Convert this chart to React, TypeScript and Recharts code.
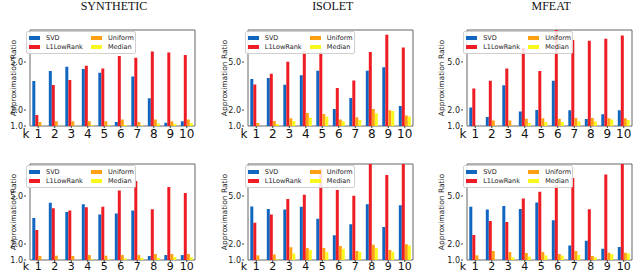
import React from 'react';
import { BarChart, Bar, XAxis, YAxis, ReferenceArea } from 'recharts';

// k = number of components
const K = ['1', '2', '3', '4', '5', '6', '7', '8', '9', '10'];
const Y_TICKS = [1, 1.5, 2, 5];
const TITLES = ['SYNTHETIC', 'ISOLET', 'MFEAT'];

// top row
const SYN_TOP_SVD = [3.81, 4.44, 4.71, 4.56, 4.33, 1.25, 4.1, 2.73, 1.21, 1.29];
const SYN_TOP_L1 = [1.69, 3.56, 3.88, 4.77, 4.6, 5.38, 5.27, 5.65, 5.6, 5.44];
const SYN_TOP_UNI = [1.25, 1.29, 1.29, 1.29, 1.29, 1.4, 1.25, 1.4, 1.29, 1.4];
const SYN_TOP_MED = [1.02, 1.01, 1.02, 1.04, 1.04, 1.06, 1.04, 1.15, 1.12, 1.19];

const ISO_TOP_SVD = [3.94, 4.0, 3.58, 4.17, 4.46, 2.06, 2.75, 4.46, 4.67, 2.25];
const ISO_TOP_L1 = [3.6, 4.27, 5.02, 5.65, 5.63, 3.38, 3.85, 5.63, 6.71, 5.9];
const ISO_TOP_UNI = [1.19, 1.31, 1.48, 1.81, 1.75, 1.4, 1.54, 2.06, 1.98, 1.65];
const ISO_TOP_MED = [1.0, 1.12, 1.31, 1.52, 1.58, 1.29, 1.38, 1.79, 1.94, 1.6];

const MF_TOP_SVD = [2.15, 1.56, 3.54, 1.9, 2.0, 3.83, 1.98, 1.44, 1.73, 1.98];
const MF_TOP_L1 = [3.35, 3.83, 4.6, 5.88, 4.44, 7.2, 6.38, 6.33, 6.46, 6.65];
const MF_TOP_UNI = [1.02, 1.35, 1.35, 1.46, 1.48, 1.46, 1.5, 1.5, 1.48, 1.48];
const MF_TOP_MED = [1.0, 1.01, 1.02, 1.19, 1.25, 1.25, 1.29, 1.29, 1.4, 1.38];

// bottom row
const SYN_BOT_SVD = [3.63, 4.58, 4.0, 4.48, 3.85, 3.9, 4.1, 1.25, 1.31, 1.31];
const SYN_BOT_L1 = [2.88, 4.23, 4.1, 4.29, 4.33, 5.35, 5.94, 4.17, 5.56, 5.19];
const SYN_BOT_UNI = [1.25, 1.27, 1.25, 1.31, 1.27, 1.31, 1.31, 1.38, 1.38, 1.38];
const SYN_BOT_MED = [1.0, 1.0, 1.0, 1.04, 1.04, 1.1, 1.13, 1.13, 1.19, 1.17];

const ISO_BOT_SVD = [4.35, 4.19, 4.15, 4.33, 3.58, 2.54, 3.23, 4.48, 3.06, 4.42];
const ISO_BOT_L1 = [3.33, 3.85, 4.81, 5.08, 6.67, 5.38, 5.02, 7.5, 6.31, 7.5];
const ISO_BOT_UNI = [1.29, 1.35, 1.79, 1.75, 1.75, 1.88, 1.56, 1.96, 1.63, 1.98];
const ISO_BOT_MED = [1.0, 1.04, 1.4, 1.63, 1.5, 1.71, 1.52, 1.75, 1.52, 1.9];

const MF_BOT_SVD = [4.33, 4.15, 4.38, 4.19, 4.6, 3.48, 1.9, 2.21, 1.71, 1.81];
const MF_BOT_L1 = [2.56, 3.44, 3.38, 4.85, 5.27, 5.69, 6.13, 4.17, 6.35, 7.5];
const MF_BOT_UNI = [1.29, 1.56, 1.5, 1.44, 1.5, 1.38, 1.56, 1.25, 1.46, 1.46];
const MF_BOT_MED = [1.0, 1.0, 1.17, 1.21, 1.29, 1.27, 1.31, 1.17, 1.38, 1.4];

const COLORS = {
    svd: '#1167c0',
    l1: '#ee1d25',
    uni: '#ffa012',
    med: '#f8f81c',
};

const SERIES = [
    { key: 'svd', name: 'SVD' },
    { key: 'l1', name: 'L1LowRank' },
    { key: 'uni', name: 'Uniform' },
    { key: 'med', name: 'Median' },
];

const FONT = '"DejaVu Sans", sans-serif';

const toRows = (svd: number[], l1: number[], uni: number[], med: number[]) =>
    K.map((k, i) => ({ k, svd: svd[i], l1: l1[i], uni: uni[i], med: med[i] }));

const PANELS = [
    { col: 0, row: 0, data: toRows(SYN_TOP_SVD, SYN_TOP_L1, SYN_TOP_UNI, SYN_TOP_MED) },
    { col: 1, row: 0, data: toRows(ISO_TOP_SVD, ISO_TOP_L1, ISO_TOP_UNI, ISO_TOP_MED) },
    { col: 2, row: 0, data: toRows(MF_TOP_SVD, MF_TOP_L1, MF_TOP_UNI, MF_TOP_MED) },
    { col: 0, row: 1, data: toRows(SYN_BOT_SVD, SYN_BOT_L1, SYN_BOT_UNI, SYN_BOT_MED) },
    { col: 1, row: 1, data: toRows(ISO_BOT_SVD, ISO_BOT_L1, ISO_BOT_UNI, ISO_BOT_MED) },
    { col: 2, row: 1, data: toRows(MF_BOT_SVD, MF_BOT_L1, MF_BOT_UNI, MF_BOT_MED) },
];

const COL_LEFT = [-0.5, 218.3, 436.7];
const Y_LABEL_DX = [13, 6, 4.5];
const AXIS_W = 26;
const CHART_W = 204;

const YLabel = ({ viewBox, dx }: any) => {
    const x = viewBox.x + dx;
    const y = viewBox.y + viewBox.height / 2;
    return (
        <text
            x={x}
            y={y}
            transform={`rotate(-90, ${x}, ${y})`}
            textAnchor="middle"
            dominantBaseline="central"
            fontFamily={FONT}
            fontSize={7.5}
            fill="#222"
        >
            Approximation Ratio
        </text>
    );
};

const KLabel = ({ viewBox, size, gap }: any) => (
    <text
        x={viewBox.x}
        y={viewBox.y + gap}
        dy="0.71em"
        textAnchor="middle"
        fontFamily={FONT}
        fontSize={size}
        fill="#111"
    >
        k
    </text>
);

const LegendBox = () => (
    <div
        style={{
            position: 'absolute',
            width: 108,
            height: 21,
            border: '1px solid #d0d0d0',
            borderRadius: 2,
            background: 'rgba(255,255,255,0.85)',
            fontFamily: FONT,
            fontSize: 6.5,
            color: '#222',
        }}
    >
        {SERIES.map((s, i) => (
            <div
                key={s.key}
                style={{
                    position: 'absolute',
                    left: i < 2 ? 2 : 64,
                    top: i % 2 === 0 ? 2 : 11,
                    display: 'flex',
                    alignItems: 'center',
                    height: 8,
                    whiteSpace: 'nowrap',
                }}
            >
                <span style={{ display: 'inline-block', width: 11, height: 4, background: (COLORS as any)[s.key], marginRight: 6 }} />
                {s.name}
            </div>
        ))}
    </div>
);

const Panel = ({ col, row, data }: any) => {
    const top = row === 0 ? 0 : 135;
    const marginTop = row === 0 ? 30 : 29;
    const height = row === 0 ? 140 : 138;
    const xHeight = height - marginTop - 96;
    // bottom row has less room below the axis, so the labels sit a touch tighter
    const tickFont = row === 0 ? 12 : 11;
    const tickGap = row === 0 ? 1 : 0;
    return (
        <div style={{ position: 'absolute', left: COL_LEFT[col], top, width: CHART_W, height }}>
            <BarChart
                width={CHART_W}
                height={height}
                data={data}
                margin={{ top: marginTop, right: 1, left: 0, bottom: 0 }}
                barCategoryGap="14%"
                barGap={0}
            >
                <XAxis
                    dataKey="k"
                    height={xHeight}
                    axisLine={false}
                    tickSize={2}
                    tickMargin={tickGap}
                    tickLine={{ stroke: '#444' }}
                    tick={{ fontFamily: FONT, fontSize: tickFont, fill: '#111' }}
                    padding={{ left: 4, right: 8 }}
                    interval={0}
                    label={<KLabel size={tickFont} gap={2 + tickGap} />}
                />
                <YAxis
                    type="number"
                    domain={[1, 7]}
                    ticks={Y_TICKS}
                    allowDataOverflow
                    width={AXIS_W}
                    axisLine={false}
                    tickSize={2}
                    tickMargin={1}
                    tickLine={{ stroke: '#444' }}
                    tick={{ fontFamily: FONT, fontSize: 8, fill: '#222' }}
                    tickFormatter={(v: number) => v.toFixed(1)}
                    label={<YLabel dx={Y_LABEL_DX[col]} />}
                />
                {SERIES.map(s => (
                    <Bar key={s.key} dataKey={s.key} name={s.name} fill={(COLORS as any)[s.key]} isAnimationActive={false} />
                ))}
                <ReferenceArea y1={1} y2={7} fill="none" stroke="#666" strokeWidth={1} ifOverflow="visible" />
            </BarChart>
            <div style={{ position: 'absolute', left: AXIS_W + 0.5, top: marginTop + 1 }}>
                <LegendBox />
            </div>
        </div>
    );
};

export default function App() {
    return (
        <div style={{ position: 'absolute', left: 0, top: 0, width: 640, height: 273, background: '#fff', overflow: 'hidden' }}>
            {TITLES.map((t, i) => (
                <div
                    key={t}
                    style={{
                        position: 'absolute',
                        left: COL_LEFT[i] + AXIS_W,
                        top: -0.5,
                        width: 177,
                        textAlign: 'center',
                        fontFamily: '"Liberation Serif", "Times New Roman", serif',
                        fontSize: 12,
                        lineHeight: '12px',
                        color: '#111',
                    }}
                >
                    {t}
                </div>
            ))}
            {PANELS.map((p, i) => (
                <Panel key={i} {...p} />
            ))}
        </div>
    );
}
